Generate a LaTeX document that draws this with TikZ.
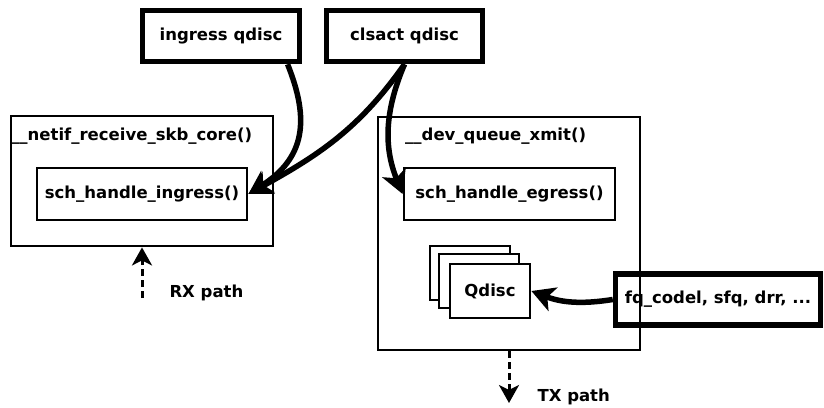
\documentclass[tikz,border=0pt]{standalone}
\usepackage{fontspec}
\setmainfont{DejaVu Sans}
\usetikzlibrary{positioning, calc, arrows.meta}

\begin{document}
\begin{tikzpicture}[x=1pt, y=-1pt,
        every node/.style={font=\bfseries\fontsize{16.5}{18}\selectfont},
        hook/.style={draw, line width=5.5pt, minimum height=51pt, inner sep=0pt},
        fnbox/.style={draw, line width=2.8pt, inner sep=0pt},
        func/.style={draw, line width=2.8pt, minimum height=52pt, inner sep=0pt},
        qd/.style={draw, fill=white, line width=2.8pt, minimum width=80pt, minimum height=54pt, inner sep=0pt},
        fnname/.style={anchor=west, inner sep=0pt},
        flow/.style={line width=5.5pt, -{Stealth[length=23pt, width=25pt, inset=6pt]}},
        dflow/.style={line width=3pt, dash pattern=on 7pt off 4pt, -{Stealth[length=18pt, width=20pt, inset=5pt]}}
    ]

    \useasboundingbox (0,0) rectangle (824,407);

    % qdisc hooks on top
    \node[hook, minimum width=157pt] (ingress) at (221,36) {ingress qdisc};
    \node[hook, minimum width=156pt] (clsact) at (404.5,36) {clsact qdisc};

    % receive side
    \node[fnbox, minimum width=262pt, minimum height=130pt] (netif) at (142,181) {};
    \node[fnname] (netifname) at (11,136) {\_\_netif\_receive\_skb\_core()};
    \node[func, minimum width=210pt] (ingressfn) at (142,194) {sch\_handle\_ingress()};

    % transmit side
    \node[fnbox, minimum width=262pt, minimum height=233pt] (xmit) at (509,233.5) {};
    \node[fnname] (xmitname) at (405,136) {\_\_dev\_queue\_xmit()};
    \node[func, minimum width=211pt] (egressfn) at (509.5,194) {sch\_handle\_egress()};

    \node[qd] (qd3) at (470,273) {};
    \node[qd] (qd2) at (479,281) {};
    \node[qd] (qd1) at (490,291) {Qdisc};

    \node[hook, minimum width=205pt] (sched) at (718,299.5) {fq\_codel, sfq, drr, ...};

    \draw[flow] (ingress.-23) .. controls (310,120) and (305,158) .. (ingressfn.east);
    \draw[flow] (clsact.south) to[out=-125, in=29] (ingressfn.east);
    \draw[flow] (clsact.south) to[out=-113, in=112] (egressfn.west);
    \draw[flow] (sched.west) to[bend left=15] (qd1.east);

    % packet paths
    \coordinate (rx) at (142,298);
    \coordinate (tx) at (509,403);
    \draw[dflow] (rx) -- (netif);
    \draw[dflow] (xmit) -- (tx);
    \node[anchor=west] (rxname) at (166,293) {RX path};
    \node[anchor=west] (txname) at (534,397) {TX path};

\end{tikzpicture}
\end{document}
